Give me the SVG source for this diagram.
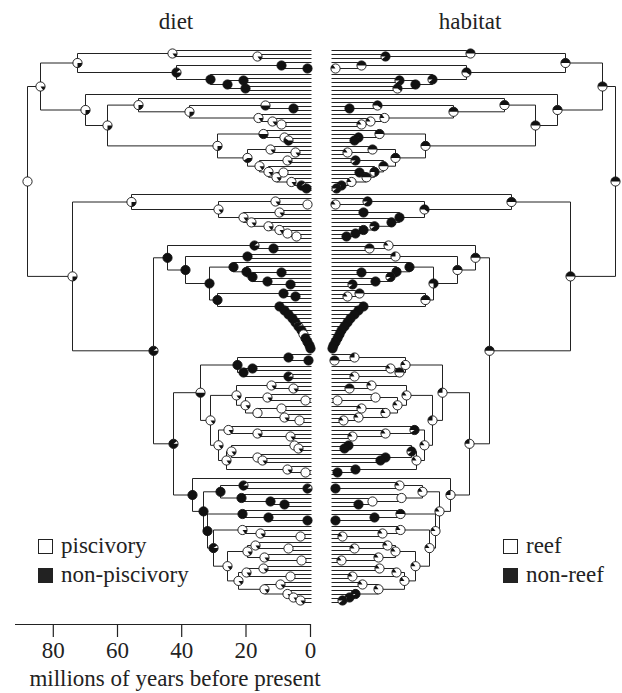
<svg xmlns="http://www.w3.org/2000/svg" xmlns:xlink="http://www.w3.org/1999/xlink" width="622" height="693" viewBox="0 0 622 693">
<style>
.tr{fill:none;stroke:#222;stroke-width:1}
.w{fill:#fff;stroke:#111;stroke-width:0.9}
.b{fill:#111;stroke:#111;stroke-width:0.9}
.k{fill:#111}
.t{font-family:"Liberation Serif","Times New Roman",serif;font-size:23px;fill:#222}
.ax{fill:none;stroke:#222;stroke-width:1.2}
</style>
<defs>
<g id="L0"><circle r="4.6" class="w"/></g>
<g id="L15"><circle r="4.6" class="w"/><path class="k" d="M0 0H4.6A4.6 4.6 0 0 1 2.7 3.72Z"/></g>
<g id="L25"><circle r="4.6" class="w"/><path class="k" d="M0 0H4.6A4.6 4.6 0 0 1 0 4.6Z"/></g>
<g id="L40"><circle r="4.6" class="w"/><path class="k" d="M0 0H4.6A4.6 4.6 0 0 1 -3.72 2.7Z"/></g>
<g id="L50"><circle r="4.6" class="w"/><path class="k" d="M0 0H4.6A4.6 4.6 0 0 1 -4.6 0Z"/></g>
<g id="L60"><circle r="4.6" class="w"/><path class="k" d="M0 0H4.6A4.6 4.6 0 1 1 -3.72 -2.7Z"/></g>
<g id="L90"><circle r="4.6" class="w"/><path class="k" d="M0 0H4.6A4.6 4.6 0 1 1 3.72 -2.7Z"/></g>
<g id="L100"><circle r="4.6" class="b"/></g>
<g id="R0"><circle r="4.6" class="w"/></g>
<g id="R15"><circle r="4.6" class="w"/><path class="k" d="M0 0H-4.6A4.6 4.6 0 0 1 -2.7 -3.72Z"/></g>
<g id="R25"><circle r="4.6" class="w"/><path class="k" d="M0 0H-4.6A4.6 4.6 0 0 1 0 -4.6Z"/></g>
<g id="R50"><circle r="4.6" class="w"/><path class="k" d="M0 0H-4.6A4.6 4.6 0 0 1 4.6 0Z"/></g>
<g id="R60"><circle r="4.6" class="w"/><path class="k" d="M0 0H-4.6A4.6 4.6 0 1 1 3.72 2.7Z"/></g>
<g id="R75"><circle r="4.6" class="w"/><path class="k" d="M0 0H-4.6A4.6 4.6 0 1 1 0 4.6Z"/></g>
<g id="R90"><circle r="4.6" class="w"/><path class="k" d="M0 0H-4.6A4.6 4.6 0 1 1 -3.72 2.7Z"/></g>
<g id="R100"><circle r="4.6" class="b"/></g>
</defs>
<rect width="622" height="693" fill="#fff"/>
<text class="t" x="176" y="29" text-anchor="middle">diet</text>
<text class="t" x="470" y="29" text-anchor="middle">habitat</text>
<g id="connectors">
<g id="diet-tree" class="tr" transform="translate(0.5,0.5)">
<path d="M311 54H257V58H311M311 50H172V56H257M311 66H307V70H311M311 62H281V68H307M311 78H243V82H311M311 86H245V90H311M243 80H227V88H245M311 74H210V84H227M281 65H176V79H210M172 53H77V72H176"/>
<path d="M311 106H293V110H311M311 102H265V108H293M311 122H281V126H311M311 118H272V124H281M311 114H258V121H272M265 105H189V117.5H258M311 98H138V111.3H189M311 138H288V142H311M311 134H284V140H288M311 130H263V137H284M311 150H295V154H311M311 146H270V152H295M311 158H287V162H311M311 186H306V190H311M311 182H301V188H306M311 178H291V185H301M311 170H283V174H311M283 172H276V181.5H291M311 166H268V176.8H276M287 160H259V171.4H268M270 149H247V165.7H259M263 133.5H217V157.4H247M138 104.6H107V145.4H217M311 94H85V125H107M77 62.5H40V109.5H85"/>
<path d="M311 202H307V206H311M311 198H275V204H307M311 210H279V214H311M311 234H296V238H311M311 230H287V236H296M311 226H279V233H287M311 222H268V229.5H279M311 218H251V225.8H268M279 212H243V221.9H251M275 201H218V217H243M311 194H131V209H218"/>
<path d="M311 246H273V250H311M311 242H254V248H273M311 254H247V258H311M311 270H281V274H311M311 282H290V286H311M311 278H267V284H290M281 272H252V281H267M311 266H246V276.5H252M311 262H233V271.3H246M311 294H295V298H311M311 290H283V296H295M311 346H310V350H311M311 342H309V348H310M311 338H307V345H309M311 334H305V341.5H307M311 330H303V337.8H305M311 326H301V333.9H303M311 322H298V329.9H301M311 318H295V326H298M311 314H292V322H295M311 310H288V318H292M311 306H284V314H288M311 302H279V310H284M283 293H217V306H279M233 266.6H209V299.5H217M247 256H185V283H209M254 245H167V269.5H185"/>
<path d="M311 358H308V362H311M311 354H288V360H308M311 366H252V370H311M311 374H288V378H311M252 368H243V376H288M288 357H237V372H243M311 386H293V390H311M311 382H271V388H293M311 398H305V402H311M311 394H267V400H305M311 406H281V410H311M311 418H299V422H311M311 414H284V420H299M281 408H257V417H284M267 397H245V412.5H257M271 385H236V404.8H245M311 434H290V438H311M311 430H257V436H290M311 426H228V433H257M311 446H298V450H311M311 442H294V448H298M311 458H262V462H311M311 454H257V460H262M294 445H231V457H257M311 470H305V474H311M311 466H287V472H305M231 451H226V469H287M228 429.5H218V460H226M236 394.9H210V444.8H218M237 364.5H200V419.9H210"/>
<path d="M311 486H307V490H311M311 482H243V488H307M311 502H284V506H311M311 498H270V504H284M311 494H241V501H270M243 485H220V497.5H241M311 518H307V522H311M311 514H268V520H307M311 510H242V517H268M311 534H300V538H311M311 530H260V536H300M311 526H242V533H260M311 546H288V550H311M311 542H255V548H288M311 558H301V562H311M311 554H264V560H301M255 545H247V557H264M311 566H263V570H311M311 574H290V578H311M263 568H246V576H290M311 582H280V586H311M311 598H300V602H311M311 594H293V600H300M311 590H287V597H293M280 584H264V593.5H287M246 572H238V588.8H264M247 551H227V580.4H238M242 529.5H213V565.7H227M242 513.5H207V547.6H213M220 491.3H203V530.6H207M311 478H192V510.9H203M200 392.2H173V494.5H192M167 257.3H153V443.3H173M131 201.5H72V350.3H153M40 86H27V275.9H72"/>
</g>
<use id="habitat-tree" href="#diet-tree" transform="matrix(-1 0 0 1 643 0)"/>
</g>
<g id="diet-nodes" transform="translate(0.5,0.5)">
<use id="d-root" href="#L0" x="27" y="181"/>
<use id="d-A" href="#L15" x="40" y="86"/>
<use id="d-A1" href="#L25" x="77" y="62.5"/>
<use id="d-A1a" href="#L15" x="172" y="53"/>
<use id="d-n257" href="#L15" x="257" y="56"/>
<use id="d-A1b" href="#L90" x="176" y="72"/>
<use id="d-n281a" href="#L100" x="281" y="65"/>
<use id="d-n307a" href="#L100" x="307" y="68"/>
<use id="d-n210a" href="#L100" x="210" y="79"/>
<use id="d-n227a" href="#L100" x="227" y="84"/>
<use id="d-n243a" href="#L100" x="243" y="80"/>
<use id="d-n245a" href="#L100" x="245" y="88"/>
<use id="d-A2" href="#L25" x="85" y="109.5"/>
<use id="d-n107" href="#L25" x="107" y="125"/>
<use id="d-n138" href="#L25" x="138" y="104.6"/>
<use id="d-n189" href="#L25" x="189" y="111.3"/>
<use id="d-n265" href="#L50" x="265" y="105"/>
<use id="d-n293" href="#L100" x="293" y="108"/>
<use id="d-n258" href="#L15" x="258" y="117.5"/>
<use id="d-n272" href="#L15" x="272" y="121"/>
<use id="d-n281b" href="#L0" x="281" y="124"/>
<use id="d-n217" href="#L25" x="217" y="145.4"/>
<use id="d-n263" href="#L50" x="263" y="133.5"/>
<use id="d-n285" href="#L15" x="284" y="137"/>
<use id="d-n290" href="#L60" x="288" y="140"/>
<use id="d-n247" href="#L40" x="247" y="157.4"/>
<use id="d-n270" href="#L15" x="270" y="149"/>
<use id="d-n295" href="#L15" x="295" y="152"/>
<use id="d-n258c" href="#L15" x="259" y="165.7"/>
<use id="d-n287" href="#L15" x="287" y="160"/>
<use id="d-n268" href="#L15" x="268" y="171.4"/>
<use id="d-n276" href="#L15" x="276" y="176.8"/>
<use id="d-n283" href="#L0" x="283" y="172"/>
<use id="d-n291" href="#L15" x="291" y="181.5"/>
<use id="d-n301" href="#L90" x="301" y="185"/>
<use id="d-n306" href="#L100" x="306" y="188"/>
<use id="d-B" href="#L25" x="72" y="275.9"/>
<use id="d-B1" href="#L25" x="131" y="201.5"/>
<use id="d-n218" href="#L15" x="218" y="209"/>
<use id="d-n275" href="#L15" x="275" y="201"/>
<use id="d-n307b1" href="#L0" x="307" y="204"/>
<use id="d-n243b" href="#L15" x="243" y="217"/>
<use id="d-n279" href="#L15" x="279" y="212"/>
<use id="d-n251" href="#L15" x="251" y="221.9"/>
<use id="d-n268b" href="#L15" x="268" y="225.8"/>
<use id="d-n279b" href="#L15" x="279" y="229.5"/>
<use id="d-n287b" href="#L0" x="287" y="233"/>
<use id="d-n296" href="#L0" x="296" y="236"/>
<use id="d-B2" href="#L90" x="153" y="350.3"/>
<use id="d-B2a" href="#L100" x="167" y="257.3"/>
<use id="d-n254" href="#L90" x="254" y="245"/>
<use id="d-n273" href="#L100" x="273" y="248"/>
<use id="d-n185" href="#L100" x="185" y="269.5"/>
<use id="d-n247b" href="#L100" x="247" y="256"/>
<use id="d-n209" href="#L100" x="209" y="283"/>
<use id="d-n233" href="#L100" x="233" y="266.6"/>
<use id="d-n246" href="#L100" x="246" y="271.3"/>
<use id="d-n252" href="#L100" x="252" y="276.5"/>
<use id="d-n281c" href="#L100" x="281" y="272"/>
<use id="d-n267" href="#L100" x="267" y="281"/>
<use id="d-n290c" href="#L100" x="290" y="284"/>
<use id="d-n217c" href="#L100" x="217" y="299.5"/>
<use id="d-n283c" href="#L100" x="283" y="293"/>
<use id="d-n295c" href="#L100" x="295" y="296"/>
<use id="d-L1" href="#L100" x="279" y="306"/>
<use id="d-L2" href="#L100" x="284" y="310"/>
<use id="d-L3" href="#L100" x="288" y="314"/>
<use id="d-L4" href="#L100" x="292" y="318"/>
<use id="d-L5" href="#L100" x="295" y="322"/>
<use id="d-L6" href="#L90" x="298" y="326"/>
<use id="d-L7" href="#L100" x="301" y="329.9"/>
<use id="d-L8" href="#L25" x="303" y="333.9"/>
<use id="d-L9" href="#L100" x="305" y="337.8"/>
<use id="d-L10" href="#L100" x="307" y="341.5"/>
<use id="d-L11" href="#L100" x="309" y="345"/>
<use id="d-L12" href="#L100" x="310" y="348"/>
<use id="d-B2b" href="#L90" x="173" y="443.3"/>
<use id="d-n200" href="#L50" x="200" y="392.2"/>
<use id="d-n237" href="#L100" x="237" y="364.5"/>
<use id="d-n288c" href="#L100" x="288" y="357"/>
<use id="d-n308c" href="#L100" x="308" y="360"/>
<use id="d-n243c" href="#L100" x="243" y="372"/>
<use id="d-n252c" href="#L100" x="252" y="368"/>
<use id="d-n288d" href="#L90" x="288" y="376"/>
<use id="d-n210" href="#L15" x="210" y="419.9"/>
<use id="d-n236" href="#L15" x="236" y="394.9"/>
<use id="d-n271" href="#L15" x="271" y="385"/>
<use id="d-n293c" href="#L15" x="293" y="388"/>
<use id="d-n245c" href="#L15" x="245" y="404.8"/>
<use id="d-n267c" href="#L15" x="267" y="397"/>
<use id="d-n305" href="#L0" x="305" y="400"/>
<use id="d-n257c" href="#L0" x="257" y="412.5"/>
<use id="d-n281d" href="#L0" x="281" y="408"/>
<use id="d-n284" href="#L15" x="284" y="417"/>
<use id="d-n299" href="#L0" x="299" y="420"/>
<use id="d-n218b" href="#L15" x="218" y="444.8"/>
<use id="d-n228" href="#L15" x="228" y="429.5"/>
<use id="d-n257d" href="#L15" x="257" y="433"/>
<use id="d-n290d" href="#L15" x="290" y="436"/>
<use id="d-n226" href="#L15" x="226" y="460"/>
<use id="d-n231" href="#L15" x="231" y="451"/>
<use id="d-n294" href="#L15" x="294" y="445"/>
<use id="d-n298" href="#L15" x="298" y="448"/>
<use id="d-n257e" href="#L15" x="257" y="457"/>
<use id="d-n262" href="#L15" x="262" y="460"/>
<use id="d-n287c" href="#L15" x="287" y="469"/>
<use id="d-n305b" href="#L0" x="305" y="472"/>
<use id="d-n192" href="#L100" x="192" y="494.5"/>
<use id="d-n203" href="#L100" x="203" y="510.9"/>
<use id="d-n220" href="#L100" x="220" y="491.3"/>
<use id="d-n243d" href="#L90" x="243" y="485"/>
<use id="d-n307d" href="#L90" x="307" y="488"/>
<use id="d-n241" href="#L100" x="241" y="497.5"/>
<use id="d-n270b" href="#L100" x="270" y="501"/>
<use id="d-n284b" href="#L100" x="284" y="504"/>
<use id="d-n207" href="#L100" x="207" y="530.6"/>
<use id="d-n242b" href="#L100" x="242" y="513.5"/>
<use id="d-n268c" href="#L100" x="268" y="517"/>
<use id="d-n307e" href="#L100" x="307" y="520"/>
<use id="d-n213" href="#L90" x="213" y="547.6"/>
<use id="d-n242c" href="#L15" x="242" y="529.5"/>
<use id="d-n260" href="#L15" x="260" y="533"/>
<use id="d-n300" href="#L0" x="300" y="536"/>
<use id="d-n227c" href="#L15" x="227" y="565.7"/>
<use id="d-n247c" href="#L15" x="247" y="551"/>
<use id="d-n255" href="#L15" x="255" y="545"/>
<use id="d-n288e" href="#L0" x="288" y="548"/>
<use id="d-n264" href="#L15" x="264" y="557"/>
<use id="d-n301b" href="#L0" x="301" y="560"/>
<use id="d-n238" href="#L15" x="238" y="580.4"/>
<use id="d-n246c" href="#L15" x="246" y="572"/>
<use id="d-n263b" href="#L15" x="263" y="568"/>
<use id="d-n290e" href="#L0" x="290" y="576"/>
<use id="d-n264b" href="#L15" x="264" y="588.8"/>
<use id="d-n280" href="#L15" x="280" y="584"/>
<use id="d-n287d" href="#L15" x="287" y="593.5"/>
<use id="d-n293d" href="#L15" x="293" y="597"/>
<use id="d-n300b" href="#L15" x="300" y="600"/>
</g>
<g id="habitat-nodes" transform="translate(-0.5,0.5)">
<use id="h-root" href="#R50" x="616" y="181"/>
<use id="h-A" href="#R50" x="603" y="86"/>
<use id="h-A1" href="#R50" x="566" y="62.5"/>
<use id="h-A1a" href="#R50" x="471" y="53"/>
<use id="h-n257" href="#R90" x="386" y="56"/>
<use id="h-A1b" href="#R60" x="467" y="72"/>
<use id="h-n281a" href="#R50" x="362" y="65"/>
<use id="h-n307a" href="#R15" x="336" y="68"/>
<use id="h-n210a" href="#R90" x="433" y="79"/>
<use id="h-n227a" href="#R100" x="416" y="84"/>
<use id="h-n243a" href="#R90" x="400" y="80"/>
<use id="h-n245a" href="#R60" x="398" y="88"/>
<use id="h-A2" href="#R50" x="558" y="109.5"/>
<use id="h-n107" href="#R50" x="536" y="125"/>
<use id="h-n138" href="#R50" x="505" y="104.6"/>
<use id="h-n189" href="#R50" x="454" y="111.3"/>
<use id="h-n265" href="#R60" x="378" y="105"/>
<use id="h-n293" href="#R100" x="350" y="108"/>
<use id="h-n258" href="#R15" x="385" y="117.5"/>
<use id="h-n272" href="#R15" x="371" y="121"/>
<use id="h-n281b" href="#R15" x="362" y="124"/>
<use id="h-n217" href="#R50" x="426" y="145.4"/>
<use id="h-n263" href="#R50" x="380" y="133.5"/>
<use id="h-n285" href="#R90" x="359" y="137"/>
<use id="h-n290" href="#R100" x="355" y="140"/>
<use id="h-n247" href="#R50" x="396" y="157.4"/>
<use id="h-n270" href="#R50" x="373" y="149"/>
<use id="h-n295" href="#R15" x="348" y="152"/>
<use id="h-n258c" href="#R50" x="384" y="165.7"/>
<use id="h-n287" href="#R90" x="356" y="160"/>
<use id="h-n268" href="#R75" x="375" y="171.4"/>
<use id="h-n276" href="#R50" x="367" y="176.8"/>
<use id="h-n283" href="#R100" x="360" y="172"/>
<use id="h-n291" href="#R15" x="352" y="181.5"/>
<use id="h-n301" href="#R100" x="342" y="185"/>
<use id="h-n306" href="#R90" x="337" y="188"/>
<use id="h-B" href="#R50" x="571" y="275.9"/>
<use id="h-B1" href="#R50" x="512" y="201.5"/>
<use id="h-n218" href="#R60" x="425" y="209"/>
<use id="h-n275" href="#R90" x="368" y="201"/>
<use id="h-n307b1" href="#R15" x="336" y="204"/>
<use id="h-n243b" href="#R100" x="400" y="217"/>
<use id="h-n279" href="#R100" x="364" y="212"/>
<use id="h-n251" href="#R100" x="392" y="221.9"/>
<use id="h-n268b" href="#R90" x="375" y="225.8"/>
<use id="h-n279b" href="#R100" x="364" y="229.5"/>
<use id="h-n287b" href="#R100" x="356" y="233"/>
<use id="h-n296" href="#R100" x="347" y="236"/>
<use id="h-B2" href="#R50" x="490" y="350.3"/>
<use id="h-B2a" href="#R50" x="476" y="257.3"/>
<use id="h-n254" href="#R15" x="389" y="245"/>
<use id="h-n273" href="#R50" x="370" y="248"/>
<use id="h-n185" href="#R50" x="458" y="269.5"/>
<use id="h-n247b" href="#R25" x="396" y="256"/>
<use id="h-n209" href="#R75" x="434" y="283"/>
<use id="h-n233" href="#R100" x="410" y="266.6"/>
<use id="h-n246" href="#R100" x="397" y="271.3"/>
<use id="h-n252" href="#R90" x="391" y="276.5"/>
<use id="h-n281c" href="#R100" x="362" y="272"/>
<use id="h-n267" href="#R100" x="376" y="281"/>
<use id="h-n290c" href="#R90" x="353" y="284"/>
<use id="h-n217c" href="#R50" x="426" y="299.5"/>
<use id="h-n283c" href="#R50" x="360" y="293"/>
<use id="h-n295c" href="#R15" x="348" y="296"/>
<use id="h-L1" href="#R100" x="364" y="306"/>
<use id="h-L2" href="#R100" x="359" y="310"/>
<use id="h-L3" href="#R100" x="355" y="314"/>
<use id="h-L4" href="#R100" x="351" y="318"/>
<use id="h-L5" href="#R100" x="348" y="322"/>
<use id="h-L6" href="#R100" x="345" y="326"/>
<use id="h-L7" href="#R100" x="342" y="329.9"/>
<use id="h-L8" href="#R100" x="340" y="333.9"/>
<use id="h-L9" href="#R100" x="338" y="337.8"/>
<use id="h-L10" href="#R100" x="336" y="341.5"/>
<use id="h-L11" href="#R100" x="334" y="345"/>
<use id="h-L12" href="#R100" x="333" y="348"/>
<use id="h-B2b" href="#R25" x="470" y="443.3"/>
<use id="h-n200" href="#R25" x="443" y="392.2"/>
<use id="h-n237" href="#R15" x="406" y="364.5"/>
<use id="h-n288c" href="#R25" x="355" y="357"/>
<use id="h-n308c" href="#R50" x="335" y="360"/>
<use id="h-n243c" href="#R50" x="400" y="372"/>
<use id="h-n252c" href="#R15" x="391" y="368"/>
<use id="h-n288d" href="#R15" x="355" y="376"/>
<use id="h-n210" href="#R25" x="433" y="419.9"/>
<use id="h-n236" href="#R15" x="407" y="394.9"/>
<use id="h-n271" href="#R15" x="372" y="385"/>
<use id="h-n293c" href="#R50" x="350" y="388"/>
<use id="h-n245c" href="#R15" x="398" y="404.8"/>
<use id="h-n267c" href="#R0" x="376" y="397"/>
<use id="h-n305" href="#R0" x="338" y="400"/>
<use id="h-n257c" href="#R15" x="386" y="412.5"/>
<use id="h-n281d" href="#R15" x="362" y="408"/>
<use id="h-n284" href="#R15" x="359" y="417"/>
<use id="h-n299" href="#R15" x="344" y="420"/>
<use id="h-n218b" href="#R15" x="425" y="444.8"/>
<use id="h-n228" href="#R90" x="415" y="429.5"/>
<use id="h-n257d" href="#R15" x="386" y="433"/>
<use id="h-n290d" href="#R15" x="353" y="436"/>
<use id="h-n226" href="#R15" x="417" y="460"/>
<use id="h-n231" href="#R90" x="412" y="451"/>
<use id="h-n294" href="#R100" x="349" y="445"/>
<use id="h-n298" href="#R100" x="345" y="448"/>
<use id="h-n257e" href="#R100" x="386" y="457"/>
<use id="h-n262" href="#R100" x="381" y="460"/>
<use id="h-n287c" href="#R100" x="356" y="469"/>
<use id="h-n305b" href="#R100" x="338" y="472"/>
<use id="h-n192" href="#R25" x="451" y="494.5"/>
<use id="h-n203" href="#R15" x="440" y="510.9"/>
<use id="h-n220" href="#R15" x="423" y="491.3"/>
<use id="h-n243d" href="#R15" x="400" y="485"/>
<use id="h-n307d" href="#R100" x="336" y="488"/>
<use id="h-n241" href="#R0" x="402" y="497.5"/>
<use id="h-n270b" href="#R0" x="373" y="501"/>
<use id="h-n284b" href="#R100" x="359" y="504"/>
<use id="h-n207" href="#R15" x="436" y="530.6"/>
<use id="h-n242b" href="#R50" x="401" y="513.5"/>
<use id="h-n268c" href="#R100" x="375" y="517"/>
<use id="h-n307e" href="#R100" x="336" y="520"/>
<use id="h-n213" href="#R15" x="430" y="547.6"/>
<use id="h-n242c" href="#R15" x="401" y="529.5"/>
<use id="h-n260" href="#R15" x="383" y="533"/>
<use id="h-n300" href="#R15" x="343" y="536"/>
<use id="h-n227c" href="#R15" x="416" y="565.7"/>
<use id="h-n247c" href="#R15" x="396" y="551"/>
<use id="h-n255" href="#R15" x="388" y="545"/>
<use id="h-n288e" href="#R15" x="355" y="548"/>
<use id="h-n264" href="#R15" x="379" y="557"/>
<use id="h-n301b" href="#R15" x="342" y="560"/>
<use id="h-n238" href="#R15" x="405" y="580.4"/>
<use id="h-n246c" href="#R15" x="397" y="572"/>
<use id="h-n263b" href="#R15" x="380" y="568"/>
<use id="h-n290e" href="#R15" x="353" y="576"/>
<use id="h-n264b" href="#R15" x="379" y="588.8"/>
<use id="h-n280" href="#R15" x="363" y="584"/>
<use id="h-n287d" href="#R90" x="356" y="593.5"/>
<use id="h-n293d" href="#R100" x="350" y="597"/>
<use id="h-n300b" href="#R90" x="343" y="600"/>
</g>
<g id="legend">
<rect x="38.5" y="539.5" width="14" height="14" fill="#fff" stroke="#222" stroke-width="1"/>
<text class="t" x="61" y="553">piscivory</text>
<rect x="38.5" y="568.5" width="14" height="14" fill="#222" stroke="#222" stroke-width="1"/>
<text class="t" x="61" y="582">non-piscivory</text>
<rect x="503.5" y="539.5" width="14" height="14" fill="#fff" stroke="#222" stroke-width="1"/>
<text class="t" x="526" y="553">reef</text>
<rect x="503.5" y="568.5" width="14" height="14" fill="#222" stroke="#222" stroke-width="1"/>
<text class="t" x="526" y="582">non-reef</text>
</g>
<g id="axis">
<path class="ax" d="M15 624.5H311M53.3 624V637M117.5 624V637M181.7 624V637M246 624V637M310.5 624V637"/>
<text class="t" x="53.3" y="658" text-anchor="middle">80</text>
<text class="t" x="117.5" y="658" text-anchor="middle">60</text>
<text class="t" x="181.7" y="658" text-anchor="middle">40</text>
<text class="t" x="246" y="658" text-anchor="middle">20</text>
<text class="t" x="310.5" y="658" text-anchor="middle">0</text>
<text class="t" x="175" y="686" text-anchor="middle">millions of years before present</text>
</g>
</svg>
